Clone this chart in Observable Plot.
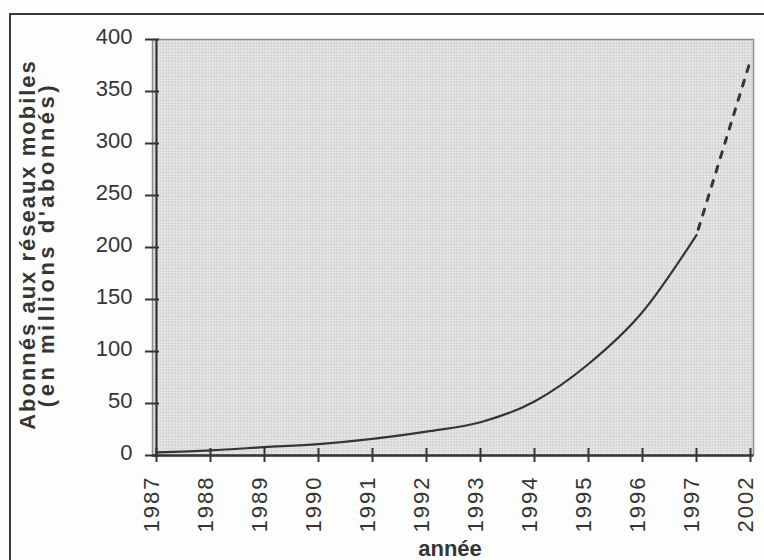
<!DOCTYPE html>
<html>
<head>
<meta charset="utf-8">
<script src="https://cdn.jsdelivr.net/npm/d3@7"></script>
<script src="https://cdn.jsdelivr.net/npm/@observablehq/plot@0.6"></script>
<style>
  html, body { margin: 0; padding: 0; background: #fdfdfd; overflow: hidden; }
  #page { position: relative; width: 764px; height: 560px; }
  #border { position: absolute; left: 9px; top: 13px; width: 820px; height: 620px;
            border: 2px solid #3a3a3a; box-sizing: border-box; }
  #chart { position: absolute; left: 0; top: 0; }
  g[aria-label="x-axis tick label"] text { letter-spacing: 2px; }
</style>
</head>
<body>
<div id="page"><div id="border"></div><div id="chart"></div></div>
<script>
// Years on the horizontal axis (equally spaced categories)
const years = ["1987","1988","1989","1990","1991","1992","1993","1994","1995","1996","1997","2002"];
// Mobile subscribers, millions (1987–1997 observed, 2002 forecast)
const subscribers = [3, 5, 8, 11, 16, 23, 32, 52, 88, 138, 212, 380];
const yTicks = [0, 50, 100, 150, 200, 250, 300, 350, 400];
const lastObservedYear = "1997";
const yTitleLines = ["Abonnés aux réseaux mobiles", "(en millions d'abonnés)"];
const xTitle = "année";

const data = years.map((year, i) => ({year, value: subscribers[i]}));
const cut = years.indexOf(lastObservedYear);
const observed = data.slice(0, cut + 1);
const forecast = data.slice(cut);

const ink = "#353535";

const chart = Plot.plot({
  width: 764,
  height: 560,
  marginLeft: 152,
  marginRight: 11,
  marginTop: 39,
  marginBottom: 105,
  style: {fontFamily: "'Liberation Sans', Arial, Helvetica, sans-serif", color: ink, background: "transparent"},
  x: {type: "point", domain: years, padding: 0, label: null},
  y: {domain: [0, 400], label: null},
  marks: [
    Plot.frame({fill: "url(#dots)", stroke: "#8c8c8c", strokeWidth: 1.5}),
    // crossing tick marks
    Plot.axisY(yTicks, {tickSize: 14, dx: 7, tickFormat: () => "", stroke: ink, strokeWidth: 2, label: null}),
    Plot.axisX(years, {tickSize: 14, dy: -7, tickFormat: () => "", stroke: ink, strokeWidth: 2, label: null}),
    // tick labels
    Plot.axisY(yTicks, {tickSize: 0, tickPadding: 20, dy: -3, fontSize: 22, fill: ink, label: null}),
    Plot.axisX(years, {tickSize: 0, tickPadding: 20, dx: -5, tickRotate: -90, fontSize: 22, fill: ink, label: null}),
    // axis lines
    Plot.ruleX([years[0]], {stroke: ink, strokeWidth: 2.2}),
    Plot.ruleY([0], {stroke: ink, strokeWidth: 2.6}),
    // series
    Plot.line(observed, {x: "year", y: "value", curve: "monotone-x", stroke: ink, strokeWidth: 2.2}),
    Plot.line(forecast, {x: "year", y: "value", stroke: ink, strokeWidth: 3, strokeDasharray: "6,9", strokeDashoffset: -6}),
    // axis titles
    Plot.text([yTitleLines.join("\n")], {frameAnchor: "left", textAnchor: "middle", dx: -114, dy: -3, rotate: -90, fontSize: 22, fontWeight: "bold",
                         lineHeight: 0.88, fill: ink}),
    Plot.text([xTitle], {frameAnchor: "bottom", dx: -3, dy: 100, fontSize: 22, fontWeight: "bold", fill: ink})
  ]
});

// widen the rotated title lines (scan is stretched vertically)
d3.select(chart).selectAll("tspan").each(function () {
  const t = this.textContent;
  if (t === yTitleLines[0]) this.style.letterSpacing = "2px";
  if (t === yTitleLines[1]) this.style.letterSpacing = "3.5px";
});

// dotted screen pattern for the plot background
const defs = d3.select(chart).insert("defs", ":first-child");
const pat = defs.append("pattern").attr("id", "dots").attr("patternUnits", "userSpaceOnUse")
  .attr("width", 3).attr("height", 3);
pat.append("rect").attr("width", 3).attr("height", 3).attr("fill", "#eaeaea");
pat.append("rect").attr("width", 1.6).attr("height", 1.6).attr("fill", "#bfbfbf");

document.getElementById("chart").appendChild(chart);
</script>
</body>
</html>
